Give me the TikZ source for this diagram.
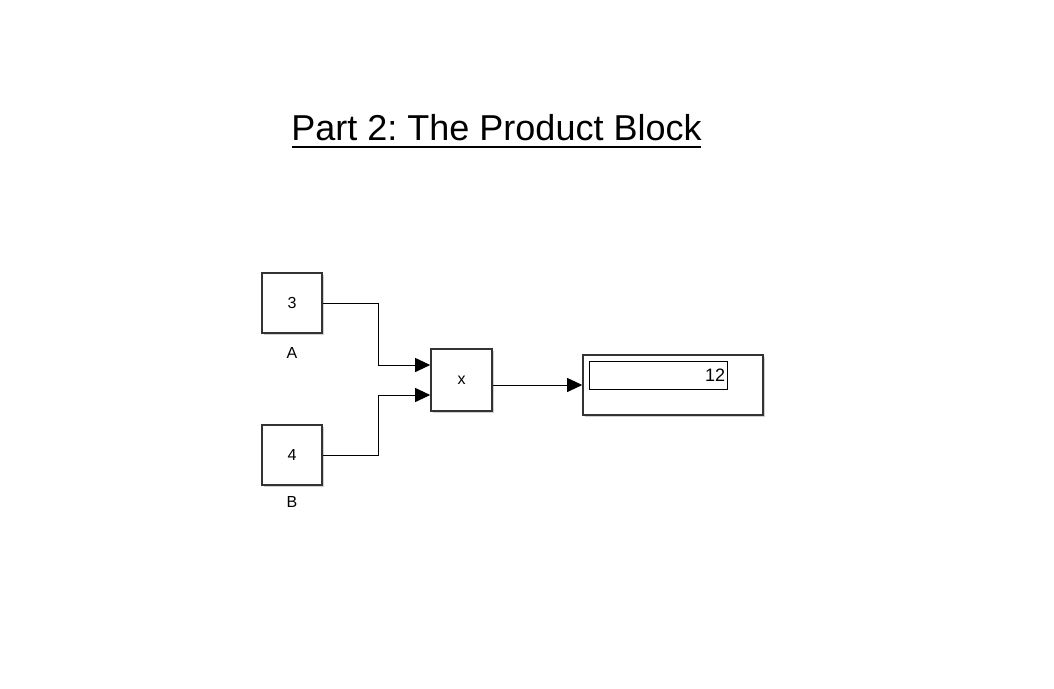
\documentclass[tikz,border=0pt]{standalone}
\usepackage{fontspec}
\setmainfont{Liberation Sans}
\usepackage{tikz}
\usetikzlibrary{arrows,arrows.meta,shadows,positioning}
\frenchspacing

\begin{document}
\begin{tikzpicture}[
        x=1pt, y=-1pt,
        blk/.style={draw=black!80, line width=1.6pt, fill=white, inner sep=0pt,
          drop shadow={shadow xshift=1.5pt, shadow yshift=-1.5pt, fill=black!30, opacity=0.6}},
        sig/.style={draw=black, line width=0.9pt, -{Triangle[length=15pt,width=14pt]}},
        lbl/.style={font=\fontsize{16}{18}\selectfont, inner sep=0pt}
      ]
        \useasboundingbox[fill=white] (0,0) rectangle (1054,688);

        % title
        \node (title) at (496.5,128) {\fontsize{36}{40}\selectfont Part 2: The Product Block};
        \draw[line width=2pt] (292,147) -- (701,147);

        % constants
        \node[blk, minimum width=60pt, minimum height=60pt, lbl] (blkA) at (292,303) {3};
        \node[lbl] (nameA) at (292,353) {A};
        \node[blk, minimum width=60pt, minimum height=60pt, lbl] (blkB) at (292,455) {4};
        \node[lbl] (nameB) at (292,502) {B};

        % product
        \node[blk, minimum width=61pt, minimum height=62pt, lbl] (prod) at (461.5,380) {x};
        \coordinate (in1) at ([yshift=15pt]prod.west);
        \coordinate (in2) at ([yshift=-15pt]prod.west);
        \coordinate (out) at ([yshift=-5pt]prod.east);

        % display
        \node[blk, minimum width=180pt, minimum height=60pt] (disp) at (673,385) {};
        \node[draw=black, line width=0.9pt, minimum width=138pt, minimum height=28pt,
          inner sep=0pt] (val) at (658,375) {};
        \node[anchor=east, font=\fontsize{18}{20}\selectfont, inner sep=0pt] (num) at ([xshift=-2pt]val.east) {12};

        % signals
        \draw[sig] (blkA.east) -- ++(56,0) |- (in1);
        \draw[sig] (blkB.east) -- ++(56,0) |- (in2);
        \draw[sig] (out) -- (out -| disp.west);
\end{tikzpicture}
\end{document}
